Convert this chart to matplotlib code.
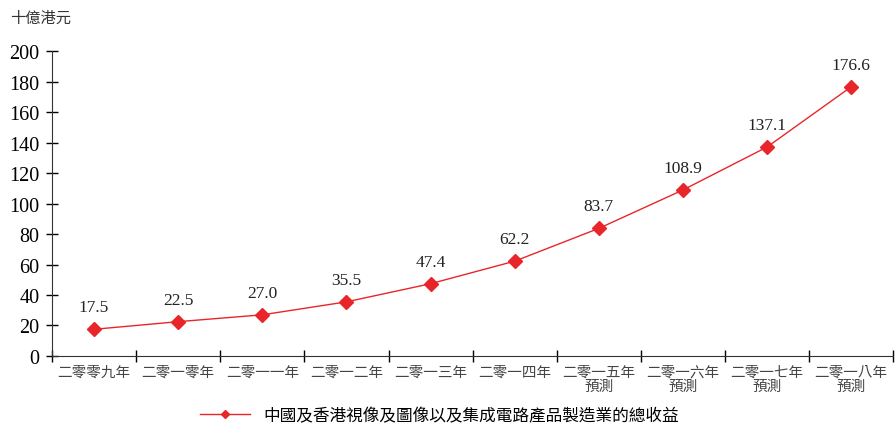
import matplotlib.pyplot as plt
import numpy as np

plt.rcParams['font.family'] = ['Liberation Serif', 'Noto Sans CJK TC']

# Data
years = ['二零零九年', '二零一零年', '二零一一年', '二零一二年', '二零一三年',
         '二零一四年', '二零一五年\n預測', '二零一六年\n預測', '二零一七年\n預測', '二零一八年\n預測']
revenue = [17.5, 22.5, 27.0, 35.5, 47.4, 62.2, 83.7, 108.9, 137.1, 176.6]
series_name = '中國及香港視像及圖像以及集成電路產品製造業的總收益'
unit_label = '十億港元'

red = '#e8262a'
cjk = ['Noto Sans CJK TC', 'DejaVu Sans']

fig = plt.figure(figsize=(8.96, 4.27), dpi=100)
ax = fig.add_axes([0.058, 0.164, 0.939, 0.714])

x = np.arange(len(revenue)) + 0.5
line, = ax.plot(x, revenue, color=red, linewidth=1, marker='D', markersize=7,
                markerfacecolor=red, markeredgecolor=red, label=series_name)
for xi, v in zip(x, revenue):
    ax.annotate(f'{v:.1f}', (xi, v), textcoords='offset points', xytext=(0, 10),
                ha='center', va='bottom', fontsize=12.5, color='#222222')

ax.set_xlim(0, len(revenue))
ax.set_ylim(0, 200)
ax.set_yticks(np.arange(0, 201, 20))
ax.set_xticks(np.arange(len(revenue) + 1))
ax.set_xticklabels([])
ax.set_xticks(x, minor=True)
ax.set_xticklabels(years, minor=True, fontfamily=cjk, fontsize=10.5, color='#444444',
                   linespacing=1.1)
ax.tick_params(axis='x', which='minor', length=0, pad=6)
ax.tick_params(axis='x', which='major', direction='inout', length=8, width=1)
ax.tick_params(axis='y', direction='inout', length=8, width=1, labelsize=14.5, pad=5)
for s in ['top', 'right']:
    ax.spines[s].set_visible(False)
for s in ['left', 'bottom']:
    ax.spines[s].set_color('#333333')

fig.text(0.011, 0.958, unit_label, fontfamily=cjk, fontsize=11, color='#333333',
         va='center', ha='left')

fig.legend(handles=[line], loc='center', bbox_to_anchor=(0.49, 0.025), frameon=False,
           prop={'family': cjk, 'size': 12}, handlelength=3, markerscale=0.6)

fig.savefig('out.png', dpi=100)
